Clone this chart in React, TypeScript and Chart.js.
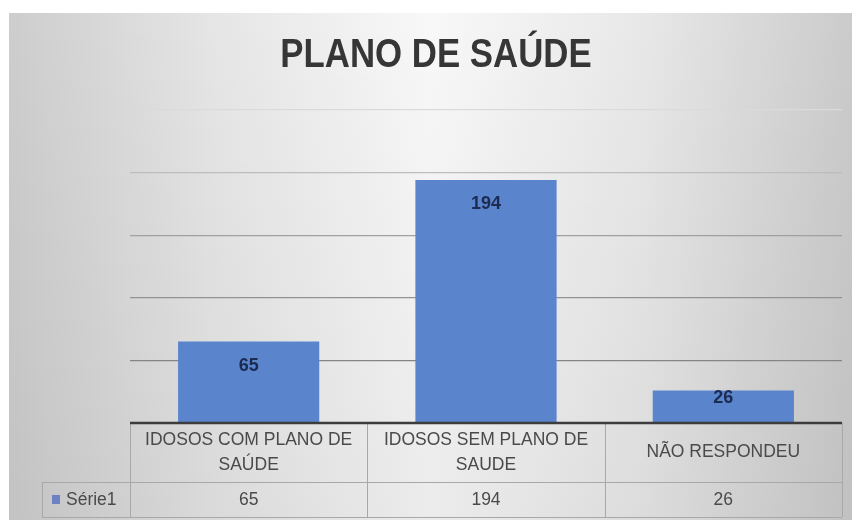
import React, { useEffect, useRef } from "react";
import { Chart, registerables } from "chart.js";

Chart.register(...registerables);

const TITLE = "PLANO DE SAÚDE";
const categories: string[][] = [
  ["IDOSOS COM PLANO DE", "SAÚDE"],
  ["IDOSOS SEM PLANO DE", "SAUDE"],
  ["NÃO RESPONDEU"],
];
const seriesName = "Série1";
const values = [65, 194, 26];
const yMin = 0;
const yMax = 250;
const yStep = 50;

const BAR_COLOR = "#5a84cc";
const LABEL_COLOR = "#1c2b52";
const TEXT_COLOR = "#4a4a4a";
const LINE_COLOR = "#a8a8a8";
const FONT = "'Liberation Sans', Arial, sans-serif";

const titlePlugin = {
  id: "narrowTitle",
  afterDraw(chart: any) {
    const ctx = chart.ctx;
    ctx.save();
    ctx.font = `bold 40px ${FONT}`;
    ctx.fillStyle = "#363636";
    ctx.textAlign = "center";
    ctx.textBaseline = "alphabetic";
    const cx = 436;
    ctx.translate(cx, 67);
    ctx.scale(0.87, 1);
    ctx.fillText(TITLE, 0, 0);
    ctx.restore();
  },
};

const barLabels = {
  id: "barLabels",
  afterDatasetsDraw(chart: any) {
    const ctx = chart.ctx;
    const meta = chart.getDatasetMeta(0);
    ctx.save();
    ctx.font = `bold 18px ${FONT}`;
    ctx.fillStyle = LABEL_COLOR;
    ctx.textAlign = "center";
    ctx.textBaseline = "middle";
    meta.data.forEach((bar: any, i: number) => {
      const h = bar.base - bar.y;
      const off = Math.min(24, h / 2 - 8);
      ctx.fillText(String(values[i]), bar.x, bar.y + off);
    });
    ctx.restore();
  },
};

const dataTable = {
  id: "dataTable",
  afterDraw(chart: any) {
    const ctx = chart.ctx;
    const xs = chart.scales.x;
    const area = chart.chartArea;
    const n = categories.length;
    const half = (xs.getPixelForValue(1) - xs.getPixelForValue(0)) / 2;
    const top = area.bottom;
    const row1 = top + 59;
    const row2 = row1 + 35;
    const legendLeft = 42;
    ctx.save();
    ctx.strokeStyle = LINE_COLOR;
    ctx.lineWidth = 1;
    ctx.beginPath();
    ctx.moveTo(legendLeft, row1 + 0.5);
    ctx.lineTo(area.right, row1 + 0.5);
    ctx.moveTo(legendLeft, row2 + 0.5);
    ctx.lineTo(area.right, row2 + 0.5);
    ctx.moveTo(legendLeft + 0.5, row1);
    ctx.lineTo(legendLeft + 0.5, row2);
    for (let i = 0; i <= n; i++) {
      const x = Math.round(xs.getPixelForValue(i) - half) + 0.5;
      ctx.moveTo(x, top);
      ctx.lineTo(x, row2);
    }
    ctx.stroke();

    ctx.strokeStyle = "#3c3c3c";
    ctx.lineWidth = 2.5;
    ctx.beginPath();
    ctx.moveTo(area.left, top);
    ctx.lineTo(area.right, top);
    ctx.stroke();

    ctx.fillStyle = TEXT_COLOR;
    ctx.font = `17.5px ${FONT}`;
    ctx.textAlign = "center";
    ctx.textBaseline = "middle";
    categories.forEach((lines, i) => {
      const cx = xs.getPixelForValue(i);
      if (lines.length === 1) {
        ctx.fillText(lines[0], cx, (top + row1) / 2);
      } else {
        ctx.fillText(lines[0], cx, top + 17);
        ctx.fillText(lines[1], cx, top + 42);
      }
      ctx.fillText(String(values[i]), cx, (row1 + row2) / 2 + 0.5);
    });

    ctx.fillStyle = "#6c82c4";
    ctx.fillRect(52, (row1 + row2) / 2 - 4.5, 8, 9);
    ctx.fillStyle = TEXT_COLOR;
    ctx.textAlign = "left";
    ctx.fillText(seriesName, 66, (row1 + row2) / 2 + 0.5);
    ctx.restore();
  },
};

const gridColors: Record<number, string> = {
  250: "#dadada",
  200: "#bdbdbd",
  150: "#a0a0a0",
  100: "#929292",
  50: "#858585",
  0: "rgba(0,0,0,0)",
};

export default function App() {
  const ref = useRef<HTMLCanvasElement>(null);
  useEffect(() => {
    if (!ref.current) return;
    const chart = new Chart(ref.current, {
      type: "bar",
      data: {
        labels: categories.map((c) => c.join(" ")),
        datasets: [
          {
            label: seriesName,
            data: values,
            backgroundColor: BAR_COLOR,
            borderWidth: 0,
            barPercentage: 0.595,
            categoryPercentage: 1,
          },
        ],
      },
      options: {
        animation: false,
        responsive: false,
        devicePixelRatio: 1,
        layout: { padding: { left: 30, right: 10, top: 110, bottom: 100 } },
        plugins: {
          legend: { display: false },
          tooltip: { enabled: false },
          title: { display: false },
        },
        scales: {
          x: { display: false },
          y: {
            min: yMin,
            max: yMax,
            ticks: { display: false, stepSize: yStep },
            border: { display: false },
            afterFit: (scale: any) => {
              scale.width = 100;
            },
            grid: {
              drawTicks: false,
              lineWidth: 1.2,
              color: (c: any) => gridColors[c.tick?.value] ?? "#999999",
            },
          },
        },
      },
      plugins: [barLabels, dataTable, titlePlugin],
    });
    return () => chart.destroy();
  }, []);

  return (
    <div style={{ position: "fixed", left: 0, top: 0, width: 852, height: 523, background: "#ffffff" }}>
      <div
        style={{
          position: "absolute",
          left: 9,
          top: 13,
          width: 843,
          height: 507,
          background:
            "linear-gradient(to bottom, rgba(0,0,0,0) 0%, rgba(0,0,0,0.05) 100%), linear-gradient(to right, #cdcdcd 0%, #e6e6e6 25%, #f8f8f8 50%, #e8e8e8 75%, #cbcbcb 100%)",
        }}
      />
      <canvas ref={ref} width={852} height={523} style={{ position: "absolute", left: 0, top: 0 }} />
    </div>
  );
}
